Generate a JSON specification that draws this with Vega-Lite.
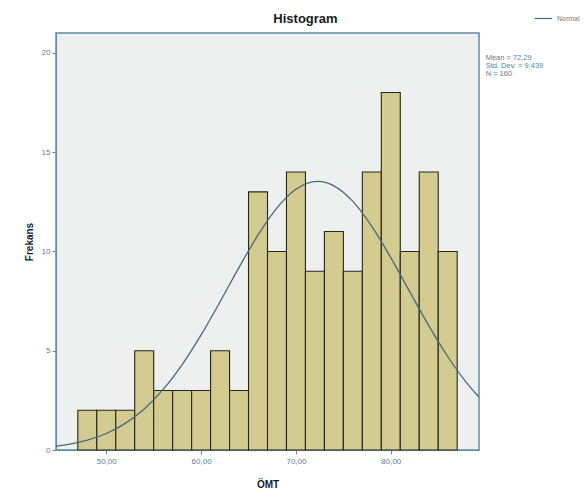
{
  "$schema": "https://vega.github.io/schema/vega-lite/v6.json",
  "autosize": "none",
  "width": 423,
  "height": 417,
  "padding": {"left": 56, "top": 33, "right": 104, "bottom": 49},
  "background": "white",
  "title": {"text": "Histogram", "fontSize": 13, "font": "Liberation Sans", "fontWeight": "bold", "color": "#1a1a1a", "anchor": "middle", "offset": -17, "dx": 38},
  "config": {
    "view": {"fill": "#EEF0F0", "stroke": "#5F8CA3", "strokeWidth": 1.5},
    "axis": {"labelFont": "Liberation Sans", "titleFont": "Liberation Sans", "labelColor": "#5A7F95", "labelFontSize": 8, "domainColor": "#5F8CA3", "tickColor": "#5F8CA3", "grid": false, "titleFontSize": 10, "titleFontWeight": "bold", "titleColor": "#1a1a1a"}
  },
  "datasets": {
    "bins": [
      {"start": 47, "end": 49, "count": 2},
      {"start": 49, "end": 51, "count": 2},
      {"start": 51, "end": 53, "count": 2},
      {"start": 53, "end": 55, "count": 5},
      {"start": 55, "end": 57, "count": 3},
      {"start": 57, "end": 59, "count": 3},
      {"start": 59, "end": 61, "count": 3},
      {"start": 61, "end": 63, "count": 5},
      {"start": 63, "end": 65, "count": 3},
      {"start": 65, "end": 67, "count": 13},
      {"start": 67, "end": 69, "count": 10},
      {"start": 69, "end": 71, "count": 14},
      {"start": 71, "end": 73, "count": 9},
      {"start": 73, "end": 75, "count": 11},
      {"start": 75, "end": 77, "count": 9},
      {"start": 77, "end": 79, "count": 14},
      {"start": 79, "end": 81, "count": 18},
      {"start": 81, "end": 83, "count": 10},
      {"start": 83, "end": 85, "count": 14},
      {"start": 85, "end": 87, "count": 10}
    ],
    "curve": [
      {"x": 44.7, "y": 0.189, "s": "Normal"},
      {"x": 46, "y": 0.280, "s": "Normal"},
      {"x": 48, "y": 0.493, "s": "Normal"},
      {"x": 50, "y": 0.832, "s": "Normal"},
      {"x": 52, "y": 1.342, "s": "Normal"},
      {"x": 54, "y": 2.069, "s": "Normal"},
      {"x": 56, "y": 3.051, "s": "Normal"},
      {"x": 58, "y": 4.301, "s": "Normal"},
      {"x": 60, "y": 5.794, "s": "Normal"},
      {"x": 62, "y": 7.464, "s": "Normal"},
      {"x": 64, "y": 9.197, "s": "Normal"},
      {"x": 66, "y": 10.832, "s": "Normal"},
      {"x": 68, "y": 12.197, "s": "Normal"},
      {"x": 70, "y": 13.132, "s": "Normal"},
      {"x": 72.29, "y": 13.524, "s": "Normal"},
      {"x": 74, "y": 13.304, "s": "Normal"},
      {"x": 76, "y": 12.519, "s": "Normal"},
      {"x": 78, "y": 11.263, "s": "Normal"},
      {"x": 80, "y": 9.687, "s": "Normal"},
      {"x": 82, "y": 7.967, "s": "Normal"},
      {"x": 84, "y": 6.264, "s": "Normal"},
      {"x": 86, "y": 4.709, "s": "Normal"},
      {"x": 88, "y": 3.385, "s": "Normal"},
      {"x": 89.3, "y": 2.667, "s": "Normal"}
    ]
  },
  "layer": [
    {
      "data": {"name": "bins"},
      "mark": {"type": "bar", "fill": "#D3CB90", "stroke": "#26261a", "strokeWidth": 1.1},
      "encoding": {
        "x": {"field": "start", "type": "quantitative", "scale": {"domain": [44.7, 89.3], "nice": false, "zero": false},
              "axis": {"title": "ÖMT", "values": [50, 60, 70, 80], "labelExpr": "replace(format(datum.value, '.2f'), '.', ',')", "tickSize": 4, "labelPadding": 3, "titlePadding": 14}},
        "x2": {"field": "end"},
        "y": {"field": "count", "type": "quantitative", "scale": {"domain": [0, 21], "nice": false},
              "axis": {"title": "Frekans", "values": [0, 5, 10, 15, 20], "tickSize": 4, "labelPadding": 2, "titlePadding": 7}},
        "y2": {"datum": 0}
      }
    },
    {
      "data": {"name": "curve"},
      "mark": {"type": "line", "interpolate": "monotone", "strokeWidth": 1.3},
      "encoding": {
        "x": {"field": "x", "type": "quantitative"},
        "y": {"field": "y", "type": "quantitative"},
        "stroke": {"field": "s", "type": "nominal", "scale": {"range": ["#44697A"]},
                   "legend": {"title": null, "orient": "none", "legendX": 478, "legendY": -24, "symbolType": "stroke", "symbolSize": 300, "symbolStrokeWidth": 1.2, "labelFontSize": 7, "labelFont": "Liberation Sans", "labelColor": "#5A7F95"}}
      }
    },
    {
      "data": {"values": [{"label": "Mean = 72,29\nStd. Dev. = 9,439\nN = 160"}]},
      "mark": {"type": "text", "align": "left", "baseline": "top", "lineBreak": "\n", "fontSize": 7.5, "font": "Liberation Sans", "color": "#5A7F95", "lineHeight": 8},
      "encoding": {
        "text": {"field": "label"},
        "x": {"datum": 90.0},
        "y": {"datum": 19.95}
      }
    }
  ]
}
